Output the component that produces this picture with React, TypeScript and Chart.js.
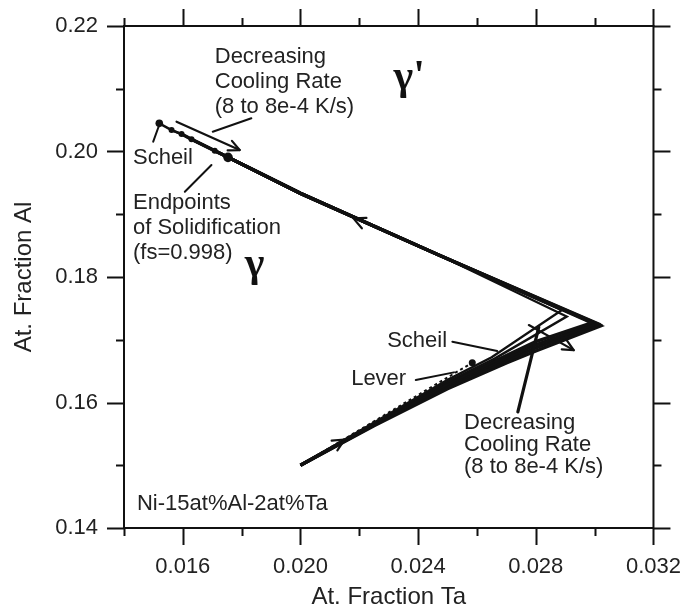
import React, { useEffect, useRef } from "react";
import { Chart, registerables } from "chart.js";

Chart.register(...registerables);

// ---------------- Data ----------------
// Axis ranges and ticks
const X_MIN = 0.014;
const X_MAX = 0.032;
const X_STEP = 0.002;
const Y_MIN = 0.14;
const Y_MAX = 0.22;
const Y_STEP = 0.01;
const X_TICK_LABELS = ["0.016", "0.020", "0.024", "0.028", "0.032"];
const Y_TICK_LABELS = ["0.14", "0.16", "0.18", "0.20", "0.22"];

// Scheil liquid path
const SCHEIL_X = [0.02, 0.0225, 0.025, 0.0265, 0.02889, 0.0247, 0.02, 0.017536, 0.017085, 0.016295, 0.015956, 0.015617, 0.0152];
const SCHEIL_Y = [0.15, 0.1568, 0.1636, 0.1672, 0.17473, 0.1835, 0.19333, 0.19907, 0.20012, 0.20194, 0.20278, 0.20342, 0.20449];

// Cooling-rate liquid paths (8, 0.8, 0.08, 0.008, 8e-4 K/s)
const RATE_8_X = [0.02, 0.0225, 0.025, 0.0266, 0.02905, 0.0247, 0.02, 0.017536, 0.017085, 0.016295, 0.015956, 0.015617];
const RATE_8_Y = [0.15, 0.1567, 0.1633, 0.167, 0.1737, 0.1835, 0.19333, 0.19907, 0.20012, 0.20194, 0.20278, 0.20342];

const RATE_08_X = [0.02, 0.0225, 0.025, 0.027, 0.028, 0.0299, 0.0247, 0.02, 0.017536, 0.017085, 0.016295, 0.015956];
const RATE_08_Y = [0.15, 0.1566, 0.163, 0.1675, 0.1697, 0.1727, 0.1835, 0.19333, 0.19907, 0.20012, 0.20194, 0.20278];

const RATE_008_X = [0.02, 0.0225, 0.025, 0.027, 0.028, 0.03008, 0.0247, 0.02, 0.017536, 0.017085, 0.016295];
const RATE_008_Y = [0.15, 0.1565, 0.1628, 0.1671, 0.1692, 0.1726, 0.1835, 0.19333, 0.19907, 0.20012, 0.20194];

const RATE_0008_X = [0.02, 0.0225, 0.025, 0.027, 0.028, 0.03014, 0.0247, 0.02, 0.017536, 0.017085];
const RATE_0008_Y = [0.15, 0.1564, 0.1625, 0.1667, 0.1687, 0.1724, 0.1835, 0.19333, 0.19907, 0.20012];

const RATE_00008_X = [0.02, 0.0225, 0.025, 0.027, 0.028, 0.0302, 0.0247, 0.02, 0.017536];
const RATE_00008_Y = [0.15, 0.1563, 0.1622, 0.1663, 0.1682, 0.1722, 0.1835, 0.19333, 0.19907];

// Lever rule path
const LEVER_X = [0.02, 0.0225, 0.025, 0.02584];
const LEVER_Y = [0.15, 0.157, 0.164, 0.16633];

// Endpoints of solidification (Scheil, then 8 ... 8e-4 K/s)
const ENDPOINT_X = [0.0152, 0.015617, 0.015956, 0.016295, 0.017085, 0.017536];
const ENDPOINT_Y = [0.20449, 0.20342, 0.20278, 0.20194, 0.20012, 0.19907];

// ---------------- Annotations (data units) ----------------
const TEXTS = [
  { t: "Decreasing", x: 0.017085, y: 0.21506, a: "left" },
  { t: "Cooling Rate", x: 0.017085, y: 0.21108, a: "left" },
  { t: "(8 to 8e-4 K/s)", x: 0.017085, y: 0.20709, a: "left" },
  { t: "Scheil", x: 0.014305, y: 0.19896, a: "left" },
  { t: "Endpoints", x: 0.014305, y: 0.19179, a: "left" },
  { t: "of Solidification", x: 0.014305, y: 0.18781, a: "left" },
  { t: "(fs=0.998)", x: 0.014305, y: 0.18382, a: "left" },
  { t: "Scheil", x: 0.024983, y: 0.1698, a: "right" },
  { t: "Lever", x: 0.023593, y: 0.16374, a: "right" },
  { t: "Decreasing", x: 0.025559, y: 0.15673, a: "left" },
  { t: "Cooling Rate", x: 0.025559, y: 0.15323, a: "left" },
  { t: "(8 to 8e-4 K/s)", x: 0.025559, y: 0.14972, a: "left" },
  { t: "Ni-15at%Al-2at%Ta", x: 0.014441, y: 0.14383, a: "left" },
];
const GREEK = [
  { t: "γ'", x: 0.023695, y: 0.21171 },
  { t: "γ", x: 0.018441, y: 0.18191 },
];
const LEADERS = [
  [0.017017, 0.20315, 0.018329, 0.20529],
  [0.015197, 0.20422, 0.014993, 0.20156],
  [0.016973, 0.19784, 0.016068, 0.19359],
  [0.025163, 0.16968, 0.026689, 0.1682],
  [0.023919, 0.16357, 0.025217, 0.1648],
  [0.028102, 0.17203, 0.02739, 0.15849],
];
// arrows with shafts: tail -> tip
const ARROWS = [
  [0.015786, 0.20475, 0.017932, 0.20023],
  [0.027763, 0.17234, 0.029289, 0.16835],
];
// arrowheads on curves: point behind -> tip
const CHEVRONS = [
  [0.0226, 0.18768, 0.0218, 0.18934],
  [0.0208, 0.15218, 0.0215, 0.1541],
];

const FONT = "'Liberation Sans', Arial, sans-serif";
const INK = "#111";
const TEXT_INK = "#222";

const toPts = (xs: number[], ys: number[]) => xs.map((x, i) => ({ x, y: ys[i] }));

const framePlugin = {
  id: "frameTicks",
  afterDraw(chart: any) {
    const { ctx, chartArea: a, scales } = chart;
    const xs = scales.x;
    const ys = scales.y;
    ctx.save();
    ctx.strokeStyle = INK;
    ctx.lineWidth = 2;
    ctx.strokeRect(a.left, a.top, a.right - a.left, a.bottom - a.top);
    ctx.beginPath();
    const nx = Math.round((X_MAX - X_MIN) / X_STEP);
    for (let i = 0; i <= nx; i++) {
      const v = X_MIN + i * X_STEP;
      const major = Math.round(v * 1000) % 4 === 0;
      const len = major ? 17 : 8;
      const p = Math.round(xs.getPixelForValue(v)) + 0.5;
      ctx.moveTo(p, a.bottom);
      ctx.lineTo(p, a.bottom + len);
      ctx.moveTo(p, a.top);
      ctx.lineTo(p, a.top - len);
    }
    const ny = Math.round((Y_MAX - Y_MIN) / Y_STEP);
    for (let i = 0; i <= ny; i++) {
      const v = Y_MIN + i * Y_STEP;
      const major = Math.round(v * 100) % 2 === 0;
      const len = major ? 17 : 8;
      const p = Math.round(ys.getPixelForValue(v)) + 0.5;
      ctx.moveTo(a.left, p);
      ctx.lineTo(a.left - len, p);
      ctx.moveTo(a.right, p);
      ctx.lineTo(a.right + len, p);
    }
    ctx.stroke();
    ctx.restore();
  },
};

function head(ctx: any, fx: number, fy: number, tx: number, ty: number, len: number) {
  const ang = Math.atan2(ty - fy, tx - fx);
  const spread = 0.45;
  ctx.beginPath();
  ctx.moveTo(tx - len * Math.cos(ang - spread), ty - len * Math.sin(ang - spread));
  ctx.lineTo(tx, ty);
  ctx.lineTo(tx - len * Math.cos(ang + spread), ty - len * Math.sin(ang + spread));
  ctx.stroke();
}

const annotationPlugin = {
  id: "annotations",
  afterDatasetsDraw(chart: any) {
    const { ctx, scales } = chart;
    const px = (v: number) => scales.x.getPixelForValue(v);
    const py = (v: number) => scales.y.getPixelForValue(v);
    ctx.save();
    ctx.strokeStyle = INK;
    ctx.lineWidth = 2;
    ctx.lineCap = "round";
    ctx.lineJoin = "round";
    LEADERS.forEach(([x1, y1, x2, y2], i) => {
      ctx.lineWidth = i === 5 ? 3.2 : 2;
      ctx.beginPath();
      ctx.moveTo(px(x1), py(y1));
      ctx.lineTo(px(x2), py(y2));
      ctx.stroke();
    });
    ctx.lineWidth = 2.2;
    ARROWS.forEach(([x1, y1, x2, y2]) => {
      ctx.beginPath();
      ctx.moveTo(px(x1), py(y1));
      ctx.lineTo(px(x2), py(y2));
      ctx.stroke();
      head(ctx, px(x1), py(y1), px(x2), py(y2), 12);
    });
    CHEVRONS.forEach(([x1, y1, x2, y2]) => {
      head(ctx, px(x1), py(y1), px(x2), py(y2), 13);
    });
    ctx.fillStyle = TEXT_INK;
    ctx.textBaseline = "middle";
    ctx.font = `22px ${FONT}`;
    TEXTS.forEach((t) => {
      ctx.textAlign = t.a;
      ctx.fillText(t.t, px(t.x), py(t.y));
    });
    ctx.textAlign = "center";
    ctx.fillStyle = INK;
    ctx.font = `bold 42px 'Liberation Serif', 'DejaVu Serif', serif`;
    GREEK.forEach((g) => {
      ctx.fillText(g.t, px(g.x), py(g.y));
    });
    ctx.restore();
  },
};

export default function App() {
  const ref = useRef<HTMLCanvasElement | null>(null);
  useEffect(() => {
    if (!ref.current) return;
    const lineDs = (label: string, xs: number[], ys: number[], w: number, extra: any = {}) => ({
      label,
      data: toPts(xs, ys),
      showLine: true,
      borderColor: INK,
      backgroundColor: INK,
      borderWidth: w,
      pointRadius: 0,
      borderJoinStyle: "miter",
      tension: 0,
      ...extra,
    });
    const chart = new Chart(ref.current, {
      type: "scatter",
      data: {
        datasets: [
          lineDs("Scheil", SCHEIL_X, SCHEIL_Y, 2.4),
          lineDs("8 K/s", RATE_8_X, RATE_8_Y, 2.4),
          lineDs("0.8 K/s", RATE_08_X, RATE_08_Y, 3.4),
          lineDs("0.08 K/s", RATE_008_X, RATE_008_Y, 3.4),
          lineDs("0.008 K/s", RATE_0008_X, RATE_0008_Y, 3.4),
          lineDs("8e-4 K/s", RATE_00008_X, RATE_00008_Y, 3.4),
          lineDs("Lever", LEVER_X, LEVER_Y, 2, { borderDash: [3, 3] }),
          {
            label: "Endpoints",
            data: toPts(ENDPOINT_X, ENDPOINT_Y),
            showLine: false,
            pointRadius: [3.8, 3, 3, 3, 3, 4.8],
            pointBackgroundColor: INK,
            pointBorderColor: INK,
            pointBorderWidth: 0,
          },
          {
            label: "Lever end",
            data: toPts([LEVER_X[LEVER_X.length - 1]], [LEVER_Y[LEVER_Y.length - 1]]),
            showLine: false,
            pointRadius: 3.5,
            pointBackgroundColor: INK,
            pointBorderColor: INK,
            pointBorderWidth: 0,
          },
        ],
      },
      options: {
        animation: false,
        responsive: false,
        devicePixelRatio: 1,
        layout: { padding: { left: 0, top: 26, right: 36, bottom: 0 } },
        plugins: { legend: { display: false }, tooltip: { enabled: false } },
        scales: {
          x: {
            type: "linear",
            min: X_MIN,
            max: X_MAX,
            afterFit: (s: any) => {
              s.height = 81;
            },
            afterBuildTicks: (s: any) => {
              const n = Math.round((X_MAX - X_MIN) / X_STEP);
              s.ticks = Array.from({ length: n + 1 }, (_, i) => ({ value: X_MIN + i * X_STEP }));
            },
            ticks: {
              autoSkip: false,
              maxRotation: 0,
              padding: 9,
              color: TEXT_INK,
              font: { family: FONT, size: 22 },
              callback: (v: any) => {
                const lbl = Number(v).toFixed(3);
                return X_TICK_LABELS.includes(lbl) ? lbl : "";
              },
            },
            grid: { display: true, drawOnChartArea: false, drawTicks: true, tickLength: 17, color: "rgba(0,0,0,0)", tickColor: "rgba(0,0,0,0)" },
            border: { display: false },
            title: {
              display: true,
              text: "At. Fraction Ta",
              color: TEXT_INK,
              font: { family: FONT, size: 24, lineHeight: 1 },
              padding: { top: 0, bottom: 0 },
            },
          },
          y: {
            type: "linear",
            min: Y_MIN,
            max: Y_MAX,
            afterFit: (s: any) => {
              s.width = 124;
            },
            afterBuildTicks: (s: any) => {
              const n = Math.round((Y_MAX - Y_MIN) / Y_STEP);
              s.ticks = Array.from({ length: n + 1 }, (_, i) => ({ value: Y_MIN + i * Y_STEP }));
            },
            ticks: {
              autoSkip: false,
              padding: 9,
              color: TEXT_INK,
              font: { family: FONT, size: 22 },
              callback: (v: any) => {
                const lbl = Number(v).toFixed(2);
                return Y_TICK_LABELS.includes(lbl) ? lbl : "";
              },
            },
            grid: { display: true, drawOnChartArea: false, drawTicks: true, tickLength: 17, color: "rgba(0,0,0,0)", tickColor: "rgba(0,0,0,0)" },
            border: { display: false },
            title: {
              display: true,
              text: "At. Fraction Al",
              color: TEXT_INK,
              font: { family: FONT, size: 24, lineHeight: 1 },
              padding: { top: 12, bottom: 0 },
            },
          },
        },
      },
      plugins: [annotationPlugin, framePlugin],
    } as any);
    return () => chart.destroy();
  }, []);
  return (
    <div style={{ position: "absolute", left: 0, top: 0, width: 690, height: 609, background: "#fff" }}>
      <canvas ref={ref} width={690} height={609} style={{ display: "block", width: 690, height: 609 }} />
    </div>
  );
}
